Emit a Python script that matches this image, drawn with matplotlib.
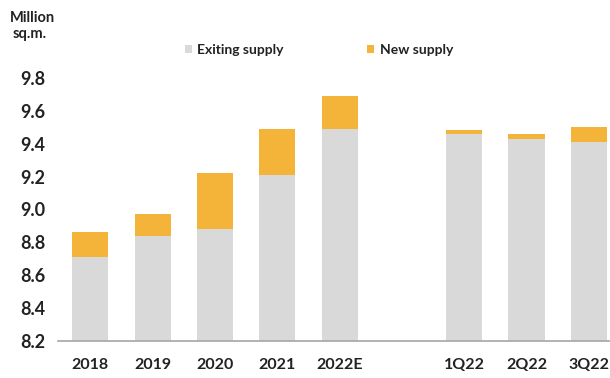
import matplotlib
matplotlib.use('Agg')
import matplotlib.pyplot as plt
import numpy as np

# values (million sq.m.)
categories = ['2018', '2019', '2020', '2021', '2022E', '1Q22', '2Q22', '3Q22']
existing_supply = [8.71, 8.84, 8.88, 9.21, 9.49, 9.46, 9.43, 9.41]
new_supply = [0.15, 0.13, 0.34, 0.28, 0.20, 0.02, 0.03, 0.09]
y_ticks = [8.2, 8.4, 8.6, 8.8, 9.0, 9.2, 9.4, 9.6, 9.8]

plt.rcParams['font.family'] = ['Lato', 'DejaVu Sans']

GREY = '#d9d9d9'
ORANGE = '#f4b43a'
TEXT = '#222222'

# annual bars, then a gap, then the quarters
x = np.array([0, 1, 2, 3, 4, 6, 7, 8])

fig = plt.figure(figsize=(6.1, 3.78), dpi=100)
ax = fig.add_axes([0.095, 0.098, 0.905, 0.696])

ax.bar(x, existing_supply, width=0.58, color=GREY, label='Exiting supply')
ax.bar(x, new_supply, width=0.58, bottom=existing_supply, color=ORANGE, label='New supply')

ax.set_ylim(8.2, 9.8)
ax.set_xlim(-0.52, 8.34)
ax.set_yticks(y_ticks)
ax.set_yticklabels(['{0:.1f}'.format(v) for v in y_ticks], fontsize=13,
                   fontweight='bold', color=TEXT)
ax.set_xticks(x)
ax.set_xticklabels(categories, fontsize=11.5, fontweight='bold', color=TEXT)
ax.tick_params(axis='y', length=0, pad=9)
ax.tick_params(axis='x', length=0, pad=12)

for side in ['top', 'right', 'left']:
    ax.spines[side].set_visible(False)
ax.spines['bottom'].set_color('#a6a6a6')
ax.spines['bottom'].set_linewidth(1.2)

leg = ax.legend(loc='center', bbox_to_anchor=(0.523, 0.868), bbox_transform=fig.transFigure,
                ncol=2, frameon=False, handlelength=0.5, handleheight=0.5,
                handletextpad=0.4, columnspacing=6.0,
                prop={'size': 10, 'weight': 'bold'})
for t in leg.get_texts():
    t.set_color(TEXT)

fig.text(0.016, 0.972, 'Million', ha='left', va='top', fontsize=10.5,
         fontweight='bold', color=TEXT)
fig.text(0.021, 0.928, 'sq.m.', ha='left', va='top', fontsize=10.5,
         fontweight='bold', color=TEXT)

fig.savefig('out.png', dpi=100)
